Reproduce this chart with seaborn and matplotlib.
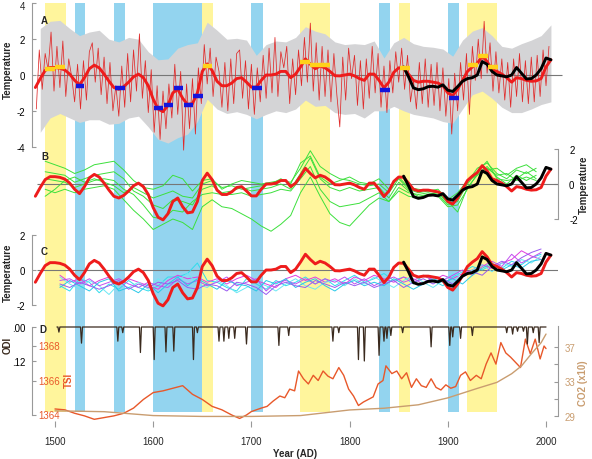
import numpy as np
import pandas as pd
import matplotlib
matplotlib.use("Agg")
import matplotlib.pyplot as plt
import seaborn as sns

# ---------------- data ----------------
# A: annual reconstruction, sampled every 3rd year from 1481
noisy_start, noisy_step = 1481, 3
recon_noisy = [
    -1.9, 1.4, -0.8, 1.2, 0.3, 2.4, -0.9, 1.6, -0.7, 1.9,      # 1481
    -1.2, 0.9, -0.1, -1.5, 0.6, -1.9, 0.8, -1.4, 1.3, 1.8,     # 1511
    -0.4, 1.5, -1.1, 1.0, -1.6, 0.7, -2.0, -0.6, -2.3, 0.5,    # 1541
    -1.8, 1.2, -1.5, 1.4, -0.9, 2.3, -1.3, 0.8, -2.1, 0.3,     # 1571
    -3.2, -0.6, -3.6, -0.9, -3.0, -0.5, -2.4, 0.6, -2.2, 0.2,  # 1601
    -4.2, -0.5, -3.0, -0.2, -3.3, 0.4, -1.6, 1.7, -0.5, 1.5,   # 1631
    -1.2, 1.0, 0.2, -1.8, 0.7, -2.0, 0.9, -1.6, 1.2, 1.4,      # 1661
    -1.3, 0.8, -1.9, 0.6, -2.2, 0.4, -1.5, 1.1, -1.3, 1.5,     # 1691
    -1.0, 2.1, -1.2, 1.3, 0.4, 1.6, -1.6, 0.9, -1.1, 1.4,      # 1721
    -0.6, 2.1, -0.4, 2.9, -0.9, 1.8, -1.4, 1.6, -1.2, 1.4,     # 1751
    -1.5, 1.2, -1.1, -2.9, 1.0, -1.4, 1.5, -0.2, 1.1, -1.7,    # 1781
    0.8, -1.9, 0.9, -1.3, 1.6, -1.0, 1.2, -1.8, 0.5, -2.1,     # 1811
    0.8, -1.0, 1.3, -0.4, 1.5, -0.8, 1.1, -1.5, -0.3, -1.9,    # 1841
    0.7, -1.6, 0.9, -1.8, 0.6, -1.7, 0.7, -2.0, 0.4, -2.3,     # 1871
    -0.2, -3.3, 0.1, -2.0, 0.7, -1.4, 1.2, -2.2, 1.6, -0.3,    # 1901
    2.0, -0.2, 3.0, 0.1, 1.8, -0.9, 1.3, -1.0, 0.9, -1.4,      # 1931
    0.7, -1.8, 0.9, -1.2, 1.2, -1.5, 0.8, -1.6, 1.0, -1.5,     # 1961
    1.1, -1.2, 1.4, -0.6, 1.6,                                 # 1991
]

# smoothed reconstruction (red), every 5 years from 1480
smooth_start = 1480
recon_smooth = [
    -0.7, -0.2, 0.25, 0.42, 0.42, 0.38, 0.28, 0.05, -0.3, -0.55,    # 1480
    -0.15, 0.35, 0.55, 0.4, 0.05, -0.35, -0.7, -0.8, -0.65, -0.4,   # 1530
    -0.1, 0.05, -0.15, -0.6, -1.35, -1.9, -2.05, -1.7, -1.0, -0.8,  # 1580
    -1.3, -1.65, -1.6, -1.0, 0.2, 0.62, 0.25, -0.35, -0.6, -0.6,    # 1630
    -0.45, -0.2, -0.15, -0.4, -0.68, -0.68, -0.3, 0.0, 0.0, 0.05,   # 1680
    0.2, 0.2, -0.15, 0.05, 0.45, 0.9, 0.6, 0.35, 0.5, 0.4,          # 1730
    0.2, -0.04, -0.05, 0.0, 0.05, -0.05, -0.2, -0.3, 0.05, 0.05,    # 1780
    -0.3, -0.72, -0.4, 0.15, 0.4, 0.38, 0.05, -0.3, -0.4, -0.35,    # 1830
    -0.35, -0.4, -0.45, -0.6, -1.0, -1.15, -0.8, -0.3, 0.2, 0.45,   # 1880
    0.65, 1.05, 0.75, 0.3, 0.2, 0.05, -0.15, -0.4, -0.15, -0.2,     # 1930
    -0.3, -0.35, -0.33, -0.2, 0.45, 0.85,                           # 1980
]

# instrumental (black), every 5 years from 1855
obs_start = 1855
obs_smooth = [
    0.45, -0.1, -0.72, -0.82, -0.77, -0.65, -0.63, -0.68, -0.55,    # 1855
    -0.85, -0.92, -0.65, -0.35, -0.2, -0.15, 0.0, 0.75, 0.6, 0.2,   # 1900
    0.0, -0.05, -0.1, 0.0, 0.42, 0.1, -0.22, -0.2, 0.0, 0.35,       # 1950
    0.95, 0.85,                                                     # 2000
]

# uncertainty envelope, every 10 years from 1485
band_start = 1485
band_hi = [
    2.6, 3.0, 3.05, 2.6, 2.2, 2.4, 2.5, 2.0, 1.85, 2.1,
    2.0, 1.3, 0.85, 0.9, 1.5, 1.7, 1.8, 2.95, 2.5, 2.0,
    2.05, 1.95, 1.1, 1.7, 1.9, 1.85, 2.1, 2.7, 2.45, 2.3,
    1.85, 1.7, 1.75, 1.7, 1.9, 0.95, 1.8, 2.1, 1.75, 1.6,
    1.55, 1.45, 1.05, 1.95, 2.45, 2.65, 2.2, 1.6, 1.5, 1.75,
    1.95, 2.2, 2.8,
]
band_lo = [
    -3.2, -2.4, -2.15, -2.4, -2.65, -2.5, -2.5, -2.75, -2.7, -2.4,
    -2.3, -2.9, -3.6, -3.8, -3.5, -3.3, -2.6, -1.35, -1.9, -2.15,
    -2.05, -2.2, -2.45, -2.2, -2.0, -2.1, -1.9, -1.4, -1.75, -1.7,
    -2.1, -2.2, -2.15, -2.4, -2.0, -2.0, -1.75, -2.0, -2.2, -2.3,
    -2.4, -2.6, -2.7, -1.9, -1.1, -0.9, -1.3, -1.8, -2.1, -2.1,
    -1.9, -1.65, -1.5,
]

# cold / warm period means (horizontal bars in A)
cold_x0 = [1521, 1561, 1601, 1611, 1621, 1631, 1641, 1701, 1831, 1901]
cold_x1 = [1530, 1571, 1610, 1620.5, 1630.5, 1640.5, 1651, 1711, 1841, 1911]
cold_y = [-0.6, -0.75, -1.85, -1.67, -0.75, -1.67, -1.2, -0.75, -0.82, -1.3]
warm_x0 = [1490, 1500, 1651, 1750, 1760, 1770, 1851, 1921, 1931, 1941]
warm_x1 = [1500, 1510, 1660, 1760, 1770, 1780, 1861, 1931, 1941, 1951]
warm_y = [0.35, 0.42, 0.52, 0.7, 0.56, 0.56, 0.37, 0.56, 1.08, 0.43]

# shaded periods
cold_start = [1520, 1560, 1600, 1700, 1830, 1900]
cold_end = [1531, 1571, 1650, 1712, 1841, 1911]
warm_start = [1490, 1650, 1750, 1850, 1920]
warm_end = [1511, 1661, 1780, 1861, 1950]

# B: model runs, every 10 years from 1490
model_years = list(range(1490, 1991, 10))
green_1 = [1.3, 1.1, 0.9, 0.6, 0.8, 1.1, 1.2, 1.3, 0.8, 0.2,
           -0.2, -0.3, -0.1, 0.5, 0.3, -0.4, 0.2, 0.3, -0.3, 0.0,
           0.2, 0.1, 0.0, 0.1, 0.2, 0.1, 0.9, 1.9, 1.0, 0.6,
           0.3, 0.2, 0.0, -0.1, 0.0, -0.5, 0.3, -0.3, -0.5, -0.4,
           -0.5, -1.1, -0.7, 0.1, 0.9, 1.2, 0.6, 0.3, 0.8, 0.6, 0.9]
green_2 = [0.7, 0.6, 0.5, 0.1, 0.3, 0.5, 0.6, 0.7, 0.3, -0.4,
           -0.7, -1.2, -1.4, -0.9, -1.0, -1.2, -0.3, -0.1, -0.5, -0.4,
           -0.2, -0.4, -0.3, -0.2, 0.0, -0.3, 0.6, 1.5, 0.3, -0.2,
           -0.4, -0.2, -0.4, -0.3, -0.2, -0.8, 0.1, -0.4, -0.7, -0.6,
           -0.5, -1.0, -1.6, -0.2, 0.5, 1.0, 0.4, 0.0, 0.5, 0.2, 0.5]
green_3 = [0.3, 0.2, 0.1, -0.2, 0.0, 0.2, 0.3, 0.2, -0.3, -0.6,
           -1.2, -1.9, -2.0, -1.5, -1.6, -1.0, -0.6, -0.5, -0.6, -0.6,
           -0.5, -0.7, -0.6, -0.5, -0.3, -0.4, 0.3, 1.0, -0.3, -1.0,
           -1.3, -1.2, -1.1, -0.8, -0.5, -1.0, -0.2, -0.5, -0.6, -0.5,
           -0.6, -1.2, -1.0, 0.0, 0.7, 1.3, 0.3, 0.2, 0.3, 0.7, 0.3]
green_4 = [-0.3, -0.5, -0.3, -0.5, -0.3, -0.2, -0.1, -0.3, -0.9, -1.5,
           -2.0, -2.6, -2.3, -2.0, -2.2, -2.6, -1.3, -0.9, -1.3, -1.4,
           -1.7, -2.0, -2.4, -2.7, -2.3, -1.8, -0.5, 0.4, -0.7, -1.7,
           -2.2, -2.4, -1.8, -1.2, -0.8, -1.0, -0.4, -0.7, -0.8, -0.6,
           -0.7, -1.3, -1.2, -0.3, 0.6, 0.9, 0.5, 0.6, 0.2, 0.4, 0.2]
green_5 = [-0.7, -0.3, 0.2, 0.4, 0.1, 0.3, 0.1, -0.1, -0.5, -0.2,
           -0.5, -0.8, -0.6, -0.4, -0.7, -0.8, 0.0, 0.2, -0.2, -0.1,
           -0.3, -0.2, -0.1, 0.0, 0.3, 0.0, 1.2, 1.6, 0.4, 0.0,
           0.2, 0.4, 0.1, 0.0, 0.3, -0.3, 0.4, -0.2, -0.3, -0.4,
           -0.3, -0.9, -0.5, 0.2, 0.5, 0.8, 0.9, 0.5, 0.9, 1.1, 0.7]

# C: forced runs, every 10 years from 1505
forced_years = list(range(1505, 1996, 10))
cyan_1 = [-0.9, -1.2, -0.5, -0.7, -1.3, -0.8, -1.1, -0.6, -1.0, -1.2,
          -0.9, -0.4, -0.4, -0.2, 0.4, -0.6, -0.7, -1.0, -1.2, -0.5,
          -0.8, -1.1, -0.6, -0.9, -0.7, -0.4, -0.8, -0.5, -0.9, -0.6,
          -0.3, -0.7, -0.5, -0.2, -0.6, -0.4, -0.8, -0.3, -0.6, -0.9,
          -0.4, -0.1, 0.2, 0.0, 0.3, 0.1, 0.5, 0.3, 0.7, 0.9]
cyan_2 = [-0.4, -0.8, -1.1, -0.6, -0.9, -1.4, -0.8, -1.0, -0.7, -1.1,
          -0.5, -0.9, -0.6, -0.2, -0.8, -1.0, -0.6, -0.9, -1.3, -1.0,
          -0.7, -0.9, -1.2, -0.8, -0.5, -0.9, -1.1, -0.7, -0.6, -0.9,
          -0.5, -0.8, -0.4, -0.7, -1.0, -0.6, -0.3, -0.7, -1.0, -0.6,
          -0.2, -0.4, 0.0, 0.3, -0.1, 0.4, 0.2, 0.6, 0.4, 0.8]
cyan_3 = [-1.0, -0.6, -0.9, -1.2, -0.7, -0.5, -1.2, -1.0, -1.3, -0.8,
          -1.3, -0.8, -0.4, -0.9, -0.5, -0.8, -1.1, -0.6, -0.8, -0.9,
          -1.2, -0.6, -0.8, -0.5, -1.0, -0.7, -0.5, -0.9, -1.2, -0.8,
          -0.6, -0.9, -0.7, -0.9, -0.5, -0.8, -1.1, -0.8, -0.5, -0.7,
          -0.5, -0.8, -0.3, 0.1, 0.4, 0.0, 0.3, 0.1, 0.5, 0.6]
magenta_1 = [-0.3, -0.7, -0.5, -0.9, -0.6, -0.4, -0.8, -0.5, -0.7, -0.9,
             -1.1, -0.6, -0.3, -0.5, -0.4, -0.7, -0.5, -0.8, -0.5, -0.3,
             -0.6, -0.8, -1.0, -0.5, -0.3, -0.6, -0.4, -0.7, -0.5, -0.8,
             -0.4, -0.6, -0.3, -0.5, -0.7, -0.4, -0.6, -0.3, -0.6, -0.3,
             -0.5, -0.2, 0.0, 0.3, 0.1, 0.4, 0.6, 1.1, 0.8, 0.6]
magenta_2 = [-0.6, -0.5, -0.8, -0.5, -0.9, -0.7, -0.5, -0.8, -1.0, -0.7,
             -0.9, -1.0, -0.5, -0.8, -0.6, -0.9, -0.7, -0.4, -0.9, -0.7,
             -0.5, -1.2, -0.7, -0.6, -0.8, -0.5, -0.8, -0.5, -0.7, -0.4,
             -0.8, -0.5, -0.9, -0.6, -0.4, -0.7, -0.5, -0.8, -0.4, -0.6,
             -0.3, 0.0, -0.3, 0.2, 0.5, 0.2, 0.9, 0.4, 0.7, 1.0]
purple_1 = [-0.8, -1.0, -0.7, -0.9, -1.1, -0.9, -0.6, -1.1, -0.8, -1.0,
            -0.7, -0.8, -0.6, -1.0, -1.1, -0.8, -0.9, -1.2, -0.7, -0.8,
            -1.0, -1.4, -0.9, -0.7, -0.9, -1.0, -0.6, -0.8, -1.0, -0.7,
            -0.9, -0.7, -1.0, -0.8, -0.6, -1.0, -0.7, -0.5, -0.8, -0.5,
            -0.8, -0.4, -0.1, -0.3, 0.2, 0.5, 0.3, 0.7, 1.0, 1.2]

# D: volcanic optical depth events, solar irradiance, CO2
odi_event_year = [1504, 1527, 1564, 1569, 1587, 1601, 1613, 1621, 1641, 1645,
                  1667, 1672, 1677, 1683, 1695, 1728, 1738, 1783, 1789, 1809,
                  1815, 1830, 1835, 1838, 1842, 1854, 1883, 1902, 1905, 1913,
                  1925, 1960, 1966, 1971, 1977, 1981, 1987, 1993]
odi_event_depth = [0.018, 0.057, 0.05, 0.02, 0.09, 0.115, 0.088, 0.085, 0.115, 0.02,
                   0.05, 0.05, 0.04, 0.04, 0.06, 0.065, 0.03, 0.05, 0.02, 0.115,
                   0.12, 0.1, 0.05, 0.04, 0.03, 0.02, 0.07, 0.065, 0.035, 0.04,
                   0.03, 0.02, 0.025, 0.015, 0.015, 0.06, 0.02, 0.055]
tsi_year = [1500, 1510, 1520, 1530, 1540, 1550, 1560, 1570, 1580, 1590,
            1600, 1610, 1620, 1630, 1640, 1650, 1660, 1670, 1680, 1688,
            1695, 1700, 1705, 1710, 1716, 1722, 1729, 1734, 1739, 1744,
            1748, 1753, 1758, 1763, 1768, 1773, 1778, 1783, 1789, 1794,
            1799, 1804, 1809, 1814, 1819, 1824, 1829, 1834, 1837, 1843,
            1848, 1853, 1858, 1863, 1868, 1873, 1878, 1883, 1888, 1893,
            1898, 1903, 1908, 1913, 1918, 1923, 1929, 1934, 1939, 1944,
            1949, 1954, 1959, 1964, 1969, 1974, 1979, 1984, 1989, 1994,
            1998, 2000]
tsi_val = [1364.35, 1364.3, 1364.1, 1363.95, 1363.75, 1363.85, 1363.95, 1364.1, 1364.4, 1364.9,
           1365.3, 1365.4, 1365.55, 1365.7, 1365.2, 1364.9, 1364.5, 1364.3, 1364.0, 1363.8,
           1364.0, 1364.2, 1364.3, 1364.4, 1364.5, 1364.8, 1365.1, 1365.0, 1365.5, 1365.4,
           1366.55, 1366.1, 1365.8, 1366.3, 1366.0, 1366.55, 1366.25, 1366.1, 1366.75, 1366.3,
           1365.5, 1365.1, 1364.55, 1364.75, 1364.9, 1365.05, 1365.8, 1366.0, 1366.85, 1366.4,
           1366.55, 1366.1, 1366.45, 1365.6, 1366.1, 1365.7, 1365.6, 1366.1, 1365.6, 1365.45,
           1365.75, 1365.55, 1365.65, 1366.3, 1366.5, 1366.0, 1366.3, 1366.1, 1366.95, 1367.6,
           1366.95, 1368.2, 1367.6, 1367.35, 1367.05, 1366.75, 1368.4, 1367.55, 1368.4, 1367.25,
           1368.0, 1367.85]
co2_year = [1500, 1550, 1600, 1650, 1700, 1750, 1800, 1835, 1870, 1900,
            1930, 1950, 1965, 1975, 1985, 1995, 2000]
co2_val = [29.6, 29.5, 29.05, 28.95, 28.95, 29.05, 29.7, 29.9, 30.3, 31.1,
           32.2, 32.9, 33.9, 34.8, 36.2, 37.5, 38.5]

# ---------------- layout ----------------
W, H = 592, 460
LEFT_PX, RIGHT_PX = 32, 558
X0, X1 = 1476.6, 2012.2

RED, BLACK = "#ee1c1c", "#000000"
YELLOW, BLUE = "#fff59c", "#93d4ef"
GREY = "#999999"

sns.set_theme(style="white")
plt.rcParams["font.family"] = ["Liberation Sans", "DejaVu Sans"]
plt.rcParams["font.size"] = 7

fig = plt.figure(figsize=(W / 100, H / 100), dpi=100)


def panel(top, bottom):
    ax = fig.add_axes([LEFT_PX / W, 1 - bottom / H,
                       (RIGHT_PX - LEFT_PX) / W, (bottom - top) / H])
    ax.set_xlim(X0, X1)
    ax.patch.set_visible(False)
    for s in ax.spines.values():
        s.set_visible(False)
    ax.set_xticks([])
    ax.set_yticks([])
    return ax


def place_y(ax, top, bottom, v0, p0, ppu):
    # value v0 lands on pixel row p0, ppu pixels per unit
    ax.set_ylim(v0 - (bottom - p0) / ppu, v0 + (p0 - top) / ppu)


def spine(ax, side, lo, hi, ticks, labels, color="black", pad=5):
    ax.spines[side].set_visible(True)
    ax.spines[side].set_bounds(lo, hi)
    ax.spines[side].set_color(GREY)
    ax.spines[side].set_linewidth(0.8)
    if side == "right":
        ax.yaxis.tick_right()
    ax.set_yticks(ticks)
    ax.set_yticklabels(labels)
    ax.tick_params(axis="y", which="both", left=(side == "left"), right=(side == "right"),
                   direction="in", length=3, width=0.8, color=GREY,
                   labelsize=7, labelcolor=color, pad=pad)


def ftext(px, py, s, **kw):
    kw.setdefault("ha", "center")
    fig.text(px / W, 1 - py / H, s, va="center", **kw)


# background shading + year axis
ax_bg = panel(4, 428)
ax_bg.set_ylim(0, 1)
for a, b in zip(cold_start, cold_end):
    ax_bg.axvspan(a, b, ymin=15 / 424, ymax=1, color=BLUE, lw=0)
for a, b in zip(warm_start, warm_end):
    ax_bg.axvspan(a, b, ymin=15 / 424, ymax=1, color=YELLOW, lw=0)
ax_bg.set_xticks(range(1500, 2001, 100))
ax_bg.tick_params(axis="x", bottom=True, direction="in", length=4, width=0.8,
                  color=GREY, labelsize=7, pad=6.5)
ax_bg.set_xlabel("Year (AD)", fontsize=7, fontweight="bold", labelpad=1.5)

noisy_years = noisy_start + noisy_step * np.arange(len(recon_noisy))
smooth_years = smooth_start + 5 * np.arange(len(recon_smooth))
obs_years = obs_start + 5 * np.arange(len(obs_smooth))
band_years = band_start + 10 * np.arange(len(band_hi))


def draw_recon(ax):
    sns.lineplot(x=smooth_years, y=recon_smooth, ax=ax, color=RED, lw=2.1, zorder=5)
    sns.lineplot(x=obs_years, y=obs_smooth, ax=ax, color=BLACK, lw=2.1, zorder=6)


# ---- A ----
axA = panel(-12, 160)
place_y(axA, -12, 160, 0, 76, 17.9)
axA.fill_between(band_years, band_lo, band_hi, color="#d4d4d6", lw=0, zorder=1)
axA.hlines(0, 1482, 2016, color="#777777", lw=0.8, zorder=2, clip_on=False)
sns.lineplot(x=noisy_years, y=recon_noisy, ax=axA, color="#e02a2a", lw=0.55, zorder=3)
draw_recon(axA)
axA.hlines(cold_y, cold_x0, cold_x1, color="#1414dc", lw=3.2, zorder=7)
axA.hlines(warm_y, warm_x0, warm_x1, color="#ffd21a", lw=3.2, zorder=7)
a_ticks = [-4, -2, 0, 2, 4]
spine(axA, "left", -4, 4, a_ticks, ["-4", "-2", "0", "2", ""])
axA.set_xticks([])
# top label of A sits at the very edge of the figure, placed directly
ftext(25, 7, "4", ha="right", fontsize=7)

# ---- B ----
axB = panel(140, 240)
place_y(axB, 140, 240, 0, 185, 17.5)
axB.hlines(0, 1482, 2012, color="#777777", lw=0.8, zorder=1)
greens = pd.DataFrame({"year": model_years * 5,
                       "t": green_1 + green_2 + green_3 + green_4 + green_5,
                       "run": np.repeat(np.arange(5), len(model_years))})
sns.lineplot(data=greens, x="year", y="t", hue="run", ax=axB,
             palette=["#3ce03c"] * 5, lw=0.7, legend=False, zorder=2)
draw_recon(axB)
spine(axB, "right", -2, 2, [-2, 0, 2], ["-2", "0", "2"], pad=8)
axB.set_xticks([])
axB.set_xlabel("")
axB.set_ylabel("")

# ---- C ----
axC = panel(225, 320)
place_y(axC, 225, 320, 0, 271, 17.5)
axC.hlines(0, 1482, 2014, color="#777777", lw=0.8, zorder=1)
forced = pd.DataFrame({"year": forced_years * 6,
                       "t": cyan_1 + magenta_1 + cyan_2 + magenta_2 + cyan_3 + purple_1,
                       "run": np.repeat(np.arange(6), len(forced_years))})
sns.lineplot(data=forced, x="year", y="t", hue="run", ax=axC,
             palette=["#2fdcec", "#e03ce0", "#6ce8f4", "#c050f0", "#28c8e8", "#9a5af0"],
             lw=0.7, legend=False, zorder=2)
draw_recon(axC)
spine(axC, "left", -2, 2, [-2, 0, 2], ["-2", "0", "2"])
axC.set_xticks([])
axC.set_xlabel("")
axC.set_ylabel("")

# ---- D ----
odi = pd.Series(0.0, index=np.arange(1502, 2001))
odi.loc[odi_event_year] = odi_event_depth
axT = panel(320, 425)
place_y(axT, 320, 425, 1368, 347, 17.25)
sns.lineplot(x=tsi_year, y=tsi_val, ax=axT, color="#e8582a", lw=1.0)
axT.set_yticks([1364, 1366, 1368])
axT.tick_params(axis="y", left=True, direction="in", length=3, width=0.8,
                color=GREY, labelleft=False)
for v in [1364, 1366, 1368]:
    axT.text(6 / (RIGHT_PX - LEFT_PX), v, str(v), transform=axT.get_yaxis_transform(),
             ha="left", va="center", fontsize=7, color="#e8582a")

axCO2 = panel(320, 425)
place_y(axCO2, 320, 425, 37, 348, 8.625)
sns.lineplot(x=co2_year, y=co2_val, ax=axCO2, color="#c99d70", lw=1.0)
spine(axCO2, "right", 29, 39.4, [29, 31, 33, 35, 37], ["29", "", "33", "", "37"],
      color="#c99d70", pad=5)

axD = panel(320, 425)
axD.set_ylim((425 - 328) / 283.3, (320 - 328) / 283.3)
sns.lineplot(x=odi.index, y=odi.values, ax=axD, color="#3a2a1e", lw=0.9)
spine(axD, "left", 0, 0.31, [0, 0.12], [".00", ".12"])

for ax in (axT, axCO2, axD):
    ax.set_xticks([])
    ax.set_xlabel("")
    ax.set_ylabel("")

# ---- labels ----
ftext(8, 70, "Temperature", rotation=90, fontsize=7, fontweight="bold")
ftext(8, 273, "Temperature", rotation=90, fontsize=7, fontweight="bold")
ftext(584, 185, "Temperature", rotation=90, fontsize=7, fontweight="bold")
ftext(8, 345, "ODI", rotation=90, fontsize=7, fontweight="bold", color="#3a2a1e")
ftext(69, 380, "TSI", rotation=90, fontsize=7, fontweight="bold", color="#e8582a")
ftext(583, 383, "CO2 (x10)", rotation=90, fontsize=7, fontweight="bold", color="#c99d70")
for letter, px, py in [("A", 44, 21), ("B", 45, 157), ("C", 44, 252), ("D", 43, 330)]:
    ftext(px, py, letter, fontsize=7, fontweight="bold")

fig.savefig("out.png", dpi=100)
